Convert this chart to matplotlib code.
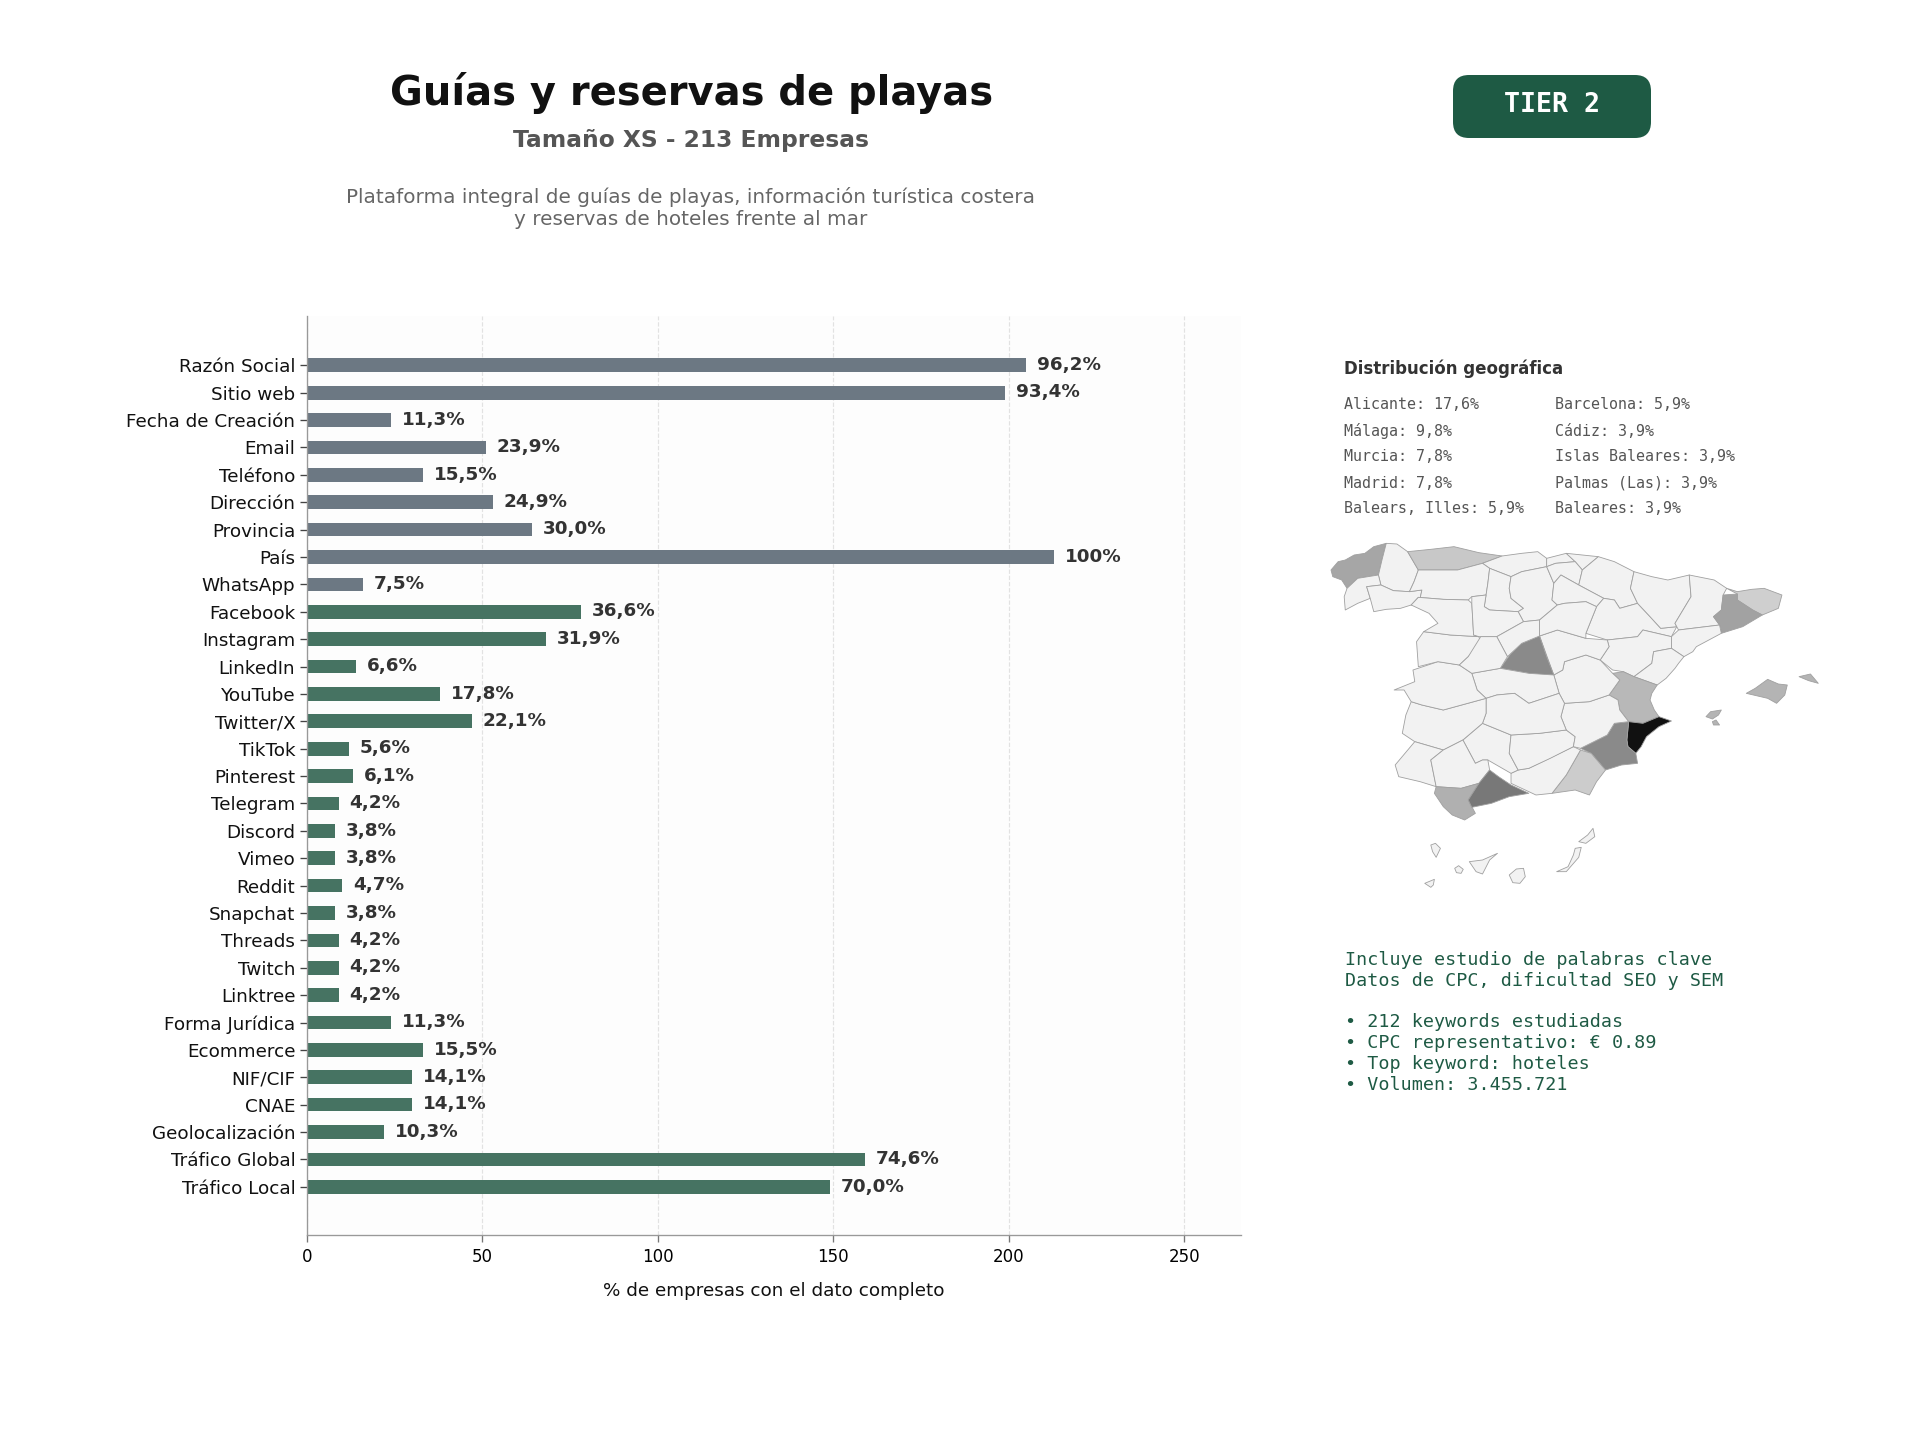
import matplotlib
matplotlib.use("Agg")
import matplotlib.pyplot as plt
from matplotlib.patches import Polygon, FancyBboxPatch

W, H = 1920, 1440

categories = ["Razón Social","Sitio web","Fecha de Creación","Email","Teléfono","Dirección","Provincia","País","WhatsApp",
    "Facebook","Instagram","LinkedIn","YouTube","Twitter/X","TikTok","Pinterest","Telegram","Discord","Vimeo","Reddit",
    "Snapchat","Threads","Twitch","Linktree","Forma Jurídica","Ecommerce","NIF/CIF","CNAE","Geolocalización",
    "Tráfico Global","Tráfico Local"]
counts = [205,199,24,51,33,53,64,213,16,78,68,14,38,47,12,13,9,8,8,10,8,9,9,9,24,33,30,30,22,159,149]
labels = ["96,2%","93,4%","11,3%","23,9%","15,5%","24,9%","30,0%","100%","7,5%","36,6%","31,9%","6,6%","17,8%","22,1%",
    "5,6%","6,1%","4,2%","3,8%","3,8%","4,7%","3,8%","4,2%","4,2%","4,2%","11,3%","15,5%","14,1%","14,1%","10,3%","74,6%","70,0%"]
n_basic = 9
geo_left = ["Alicante: 17,6%","Málaga: 9,8%","Murcia: 7,8%","Madrid: 7,8%","Balears, Illes: 5,9%"]
geo_right = ["Barcelona: 5,9%","Cádiz: 3,9%","Islas Baleares: 3,9%","Palmas (Las): 3,9%","Baleares: 3,9%"]
keyword_lines = ["Incluye estudio de palabras clave","Datos de CPC, dificultad SEO y SEM","",
    "• 212 keywords estudiadas","• CPC representativo: € 0.89","• Top keyword: hoteles","• Volumen: 3.455.721"]

provinces = {
 "A Coruña":[(85,150),(105,125),(125,120),(150,105),(180,100),(205,80),(240,70),(228,120),(218,165),(160,175),(130,205),(115,180),(90,170)],
 "Lugo":[(240,70),(270,72),(300,95),(330,150),(318,185),(305,215),(260,212),(225,195),(218,165),(228,120)],
 "Pontevedra":[(130,205),(160,175),(218,165),(225,195),(185,200),(195,235),(160,250),(125,270),(122,230)],
 "Ourense":[(185,200),(225,195),(260,212),(305,215),(340,210),(335,235),(310,255),(280,265),(240,268),(205,275),(195,235)],
 "Asturias":[(300,95),(365,88),(430,80),(500,98),(565,108),(510,130),(440,150),(370,150),(330,150)],
 "Cantabria":[(565,108),(620,100),(665,95),(690,115),(690,140),(620,155),(590,170),(530,145),(510,130)],
 "León":[(330,150),(370,150),(440,150),(510,130),(530,145),(525,190),(520,225),(480,230),(470,240),(400,238),(330,232),(310,255),(335,235),(340,210),(305,215),(318,185)],
 "Palencia":[(530,145),(590,170),(585,205),(590,235),(625,265),(610,275),(530,270),(515,260),(520,225),(525,190)],
 "Burgos":[(590,170),(620,155),(690,140),(710,190),(705,240),(720,255),(670,300),(625,305),(610,275),(625,265),(590,235),(585,205)],
 "Bizkaia":[(690,115),(745,100),(770,125),(715,130),(690,140)],
 "Gipuzkoa":[(745,100),(835,110),(790,150),(770,125)],
 "Álava":[(690,140),(715,130),(770,125),(790,150),(780,195),(730,165),(710,190)],
 "Navarra":[(790,150),(835,110),(880,125),(935,155),(925,205),(945,250),(895,265),(880,240),(850,235),(780,195)],
 "La Rioja":[(710,190),(730,165),(780,195),(850,235),(830,260),(800,245),(740,250),(720,255),(705,240)],
 "Zaragoza":[(850,235),(880,240),(895,265),(945,250),(980,290),(1010,325),(1055,320),(1040,350),(960,330),(945,350),(860,360),(800,340),(830,260)],
 "Huesca":[(935,155),(985,170),(1030,180),(1090,165),(1095,230),(1050,310),(1055,320),(1010,325),(980,290),(945,250),(925,205)],
 "Lleida":[(1090,165),(1160,180),(1195,205),(1185,225),(1180,270),(1158,290),(1175,315),(1060,330),(1055,320),(1050,310),(1095,230)],
 "Girona":[(1195,205),(1225,215),(1265,208),(1300,205),(1350,225),(1340,265),(1295,285),(1268,270),(1225,240),(1225,222)],
 "Barcelona":[(1185,225),(1225,222),(1225,240),(1268,270),(1295,285),(1240,320),(1180,340),(1175,315),(1158,290),(1180,270)],
 "Tarragona":[(1060,330),(1175,315),(1180,340),(1110,380),(1100,395),(1075,410),(1040,385),(1040,350)],
 "Teruel":[(860,360),(945,350),(960,330),(1040,350),(1040,385),(990,395),(985,430),(935,470),(905,455),(875,450),(840,420),(865,380)],
 "Castellón":[(1040,385),(1075,410),(1060,430),(1050,445),(1025,475),(1000,495),(935,470),(985,430),(990,395)],
 "Valencia":[(875,460),(905,455),(935,470),(1000,495),(985,520),(980,540),(992,570),(1005,590),(960,610),(920,605),(895,570),(890,540),(865,525),(895,480)],
 "Alicante":[(920,605),(960,610),(1005,590),(1040,603),(1005,620),(970,650),(955,680),(940,700),(918,680),(915,660)],
 "Murcia":[(880,610),(920,605),(915,660),(918,680),(940,700),(945,730),(900,735),(855,750),(815,700),(785,685),(860,645)],
 "Almería":[(785,690),(815,700),(855,750),(830,785),(810,825),(770,810),(705,820),(745,765)],
 "Granada":[(590,760),(610,750),(640,745),(765,680),(785,690),(745,765),(705,820),(660,825),(640,815),(590,790)],
 "Córdoba":[(455,660),(510,610),(590,645),(585,700),(610,750),(590,760),(525,720),(510,720),(490,730)],
 "Jaén":[(590,645),(670,640),(745,630),(770,650),(765,680),(700,715),(640,745),(610,750),(585,700)],
 "Albacete":[(740,550),(810,545),(865,525),(890,540),(895,570),(920,605),(880,610),(860,645),(785,685),(765,680),(770,650),(745,630),(730,590)],
 "Cuenca":[(710,465),(735,450),(740,425),(800,405),(840,420),(875,460),(895,480),(865,525),(810,545),(740,550),(725,520)],
 "Guadalajara":[(670,348),(720,330),(800,355),(860,360),(865,380),(840,420),(800,405),(740,425),(735,450),(710,465)],
 "Madrid":[(670,348),(690,410),(710,465),(630,480),(640,460),(560,445),(590,400),(620,370)],
 "Toledo":[(480,460),(560,445),(640,460),(710,465),(725,520),(640,550),(600,520),(550,525),(520,535),(495,510)],
 "Ciudad Real":[(520,535),(550,525),(600,520),(640,550),(725,520),(740,550),(730,590),(745,630),(670,640),(590,645),(510,610),(520,580)],
 "Badajoz":[(310,545),(340,555),(400,570),(520,535),(520,580),(510,610),(455,660),(400,690),(320,665),(285,640),(295,585)],
 "Cáceres":[(315,450),(385,425),(445,435),(480,460),(495,510),(520,535),(400,570),(340,555),(310,545),(290,510),(262,510),(320,485)],
 "Huelva":[(320,665),(400,690),(365,720),(380,800),(335,785),(275,770),(265,735)],
 "Sevilla":[(400,690),(455,660),(490,730),(510,720),(525,720),(530,750),(500,790),(450,805),(380,800),(365,720)],
 "Cádiz":[(375,820),(380,800),(450,805),(500,790),(470,840),(490,880),(460,900),(425,885),(400,860)],
 "Málaga":[(500,790),(530,750),(555,770),(590,795),(640,820),(585,830),(535,850),(480,862),(470,840)],
 "Salamanca":[(325,365),(345,335),(420,345),(500,350),(505,370),(470,410),(445,435),(385,425),(330,440)],
 "Zamora":[(310,255),(330,232),(400,238),(470,240),(480,250),(485,345),(500,350),(420,345),(345,335),(385,310),(360,280)],
 "Valladolid":[(480,230),(520,225),(515,260),(530,270),(610,275),(625,305),(550,350),(500,350),(485,345),(480,250)],
 "Segovia":[(550,350),(625,305),(670,300),(670,348),(620,370),(590,400),(580,410)],
 "Ávila":[(505,350),(550,350),(580,410),(560,445),(480,460),(445,435),(470,410)],
 "Soria":[(670,300),(720,255),(740,250),(800,245),(830,260),(800,340),(800,355),(720,330),(670,348)],
 "Mallorca":[(1250,520),(1275,505),(1310,478),(1340,492),(1365,495),(1358,525),(1335,550),(1310,535),(1290,530)],
 "Menorca":[(1398,470),(1430,462),(1452,490),(1425,482)],
 "Ibiza":[(1137,590),(1150,575),(1180,570),(1172,585),(1155,597)],
 "Formentera":[(1155,605),(1165,600),(1175,615),(1158,615)],
 "La Palma":[(365,975),(378,970),(392,985),(380,1012),(370,995)],
 "El Hierro":[(348,1090),(375,1078),(372,1095),(365,1102)],
 "La Gomera":[(432,1045),(443,1037),(456,1048),(450,1060),(437,1058)],
 "Tenerife":[(473,1025),(510,1020),(552,1000),(530,1020),(510,1062),(492,1055)],
 "Gran Canaria":[(585,1065),(605,1047),(625,1045),(630,1070),(615,1090),(595,1088)],
 "Fuerteventura":[(718,1055),(750,1040),(765,1005),(770,985),(787,982),(780,1012),(745,1055)],
 "Lanzarote":[(780,965),(805,945),(820,925),(825,950),(800,970)],
}
province_shades = {"Alicante":"#111111","Málaga":"#787878","Murcia":"#8a8a8a","Madrid":"#8a8a8a","Barcelona":"#a2a2a2",
    "A Coruña":"#a6a6a6","Cádiz":"#b0b0b0","Valencia":"#b8b8b8","Asturias":"#c8c8c8","Almería":"#cccccc","Girona":"#cfcfcf",
    "Mallorca":"#b4b4b4","Menorca":"#b4b4b4","Ibiza":"#b4b4b4","Formentera":"#b4b4b4"}

plt.rcParams['font.family'] = ['DejaVu Sans']
fig = plt.figure(figsize=(16, 12), dpi=120, facecolor="white")

def fx(px): return px / W
def fy(py): return 1 - py / H
def axrect(l, t, r, b): return [fx(l), fy(b), (r - l) / W, (b - t) / H]

# Bars
ax = fig.add_axes(axrect(307, 316, 1241, 1235))
ax.set_facecolor("#fdfdfd")
ypos = list(range(len(categories)))
colors = ["#6c7883" if i < n_basic else "#467362" for i in ypos]
ax.barh(ypos, counts, height=0.5, color=colors, zorder=2)
for y, c, t in zip(ypos, counts, labels):
    ax.text(c + 3.1, y - 0.01, t, va="center", ha="left", fontsize=11, fontweight="bold", color="#333333", zorder=4)
ax.set_yticks(ypos)
ax.set_yticklabels(categories, fontsize=11, color="#111111")
ax.set_ylim(len(categories) - 1 + 1.76, -1.80)
ax.set_xlim(0, 266.2)
ax.set_xticks([0, 50, 100, 150, 200, 250])
ax.tick_params(axis="x", labelsize=10, color="#777777", length=4)
ax.tick_params(axis="y", color="#444444", length=4, pad=3)
ax.grid(axis="x", linestyle="--", color="#bbbbbb", alpha=0.4, linewidth=0.7, zorder=3)
for s in ("top", "right"):
    ax.spines[s].set_visible(False)
for s in ("left", "bottom"):
    ax.spines[s].set_color("#999999")
ax.set_xlabel("% de empresas con el dato completo", fontsize=11, color="#111111", labelpad=10)

# Header
fig.text(fx(692), fy(93), "Guías y reservas de playas", ha="center", va="center", fontsize=24, fontweight="bold", color="#111111")
fig.text(fx(691), fy(141), "Tamaño XS - 213 Empresas", ha="center", va="center", fontsize=14, fontweight="bold", color="#555555")
fig.text(fx(691), fy(197), "Plataforma integral de guías de playas, información turística costera", ha="center", va="center", fontsize=12, color="#666666")
fig.text(fx(691), fy(219.5), "y reservas de hoteles frente al mar", ha="center", va="center", fontsize=12, color="#666666")

# Overlay axes in pixel coordinates
ov = fig.add_axes([0, 0, 1, 1], facecolor="none")
ov.set_xlim(0, W); ov.set_ylim(H, 0); ov.axis("off")
ov.add_patch(FancyBboxPatch((1453 + 16, 75 + 16), 198 - 32, 63 - 32, boxstyle="round,pad=16", facecolor="#1e5a44", edgecolor="none"))
ov.text(1552, 105.5, "TIER 2", ha="center", va="center", family="DejaVu Sans Mono", fontsize=16, fontweight="bold", color="white")

ov.text(1344, 369, "Distribución geográfica", ha="left", va="center", fontsize=10, fontweight="bold", color="#333333")
row_y = [404.5, 431, 456.5, 483, 508.5]
for y, a, b in zip(row_y, geo_left, geo_right):
    ov.text(1344, y, a, ha="left", va="center", family="DejaVu Sans Mono", fontsize=9, color="#555555")
    ov.text(1555, y, b, ha="left", va="center", family="DejaVu Sans Mono", fontsize=9, color="#555555")

line_y = [960, 981, 1001, 1022, 1043, 1064, 1085]
for y, t in zip(line_y, keyword_lines):
    ov.text(1345, y, t, ha="left", va="center", family="DejaVu Sans Mono", fontsize=11, color="#1e5a44")

# Map
m = fig.add_axes(axrect(1300.7, 520, 1860, 900), facecolor="none")
m.set_xlim(0, 1569); m.set_ylim(1140, 0); m.axis("off")
for name, pts in provinces.items():
    m.add_patch(Polygon(pts, closed=True, facecolor=province_shades.get(name, "#f2f2f2"), edgecolor="#a0a0a0", linewidth=0.5, joinstyle="round"))

fig.savefig("out.png", dpi=120, facecolor="white")
